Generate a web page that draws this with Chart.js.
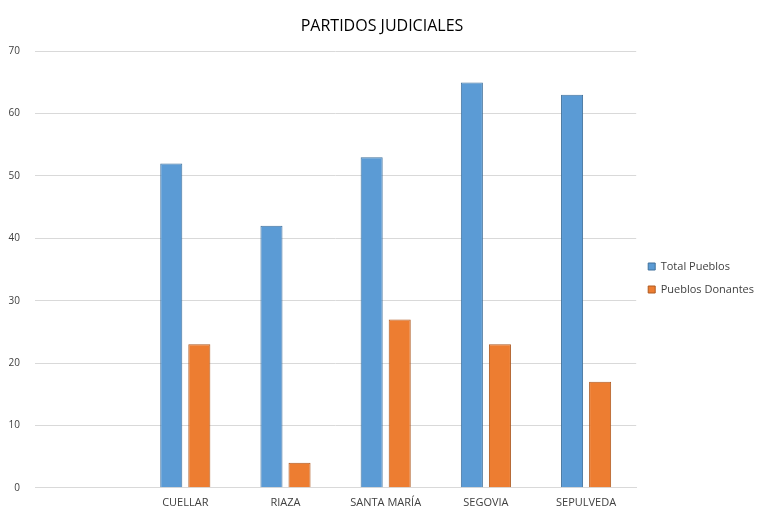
<!DOCTYPE html>
<html>
<head>
<meta charset="utf-8">
<script src="https://cdn.jsdelivr.net/npm/chart.js@4"></script>
<style>
  body { margin: 0; background: #fff; }
  #wrap { width: 772px; height: 521px; }
</style>
</head>
<body>
<div id="wrap"><canvas id="grid"></canvas></div>
<script>
var partidos = ['', 'CUELLAR', 'RIAZA', 'SANTA MARÍA', 'SEGOVIA', 'SEPULVEDA'];
var totalPueblos = [null, 52, 42, 53, 65, 63];
var pueblosDonantes = [null, 23, 4, 27, 23, 17];
var yTicks = [0, 10, 20, 30, 40, 50, 60, 70];

var fontFam = "'Liberation Sans Narrow', 'Open Sans', sans-serif";

var chartdata = {
  labels: partidos,
  datasets: [
    {
      label: 'Total Pueblos',
      backgroundColor: '#5B9BD5',
      borderColor: '#41719C',
      borderWidth: 1,
      data: totalPueblos
    },
    {
      label: 'Pueblos Donantes',
      backgroundColor: '#ED7D31',
      borderColor: '#AE5A21',
      borderWidth: 1,
      data: pueblosDonantes
    }
  ]
};

var ctx = document.getElementById('grid');

var barGraph = new Chart(ctx, {
  type: 'bar',
  data: chartdata,
  options: {
    responsive: true,
    maintainAspectRatio: false,
    animation: false,
    layout: { padding: { left: 0, right: 8, top: 17, bottom: 4 } },
    datasets: { bar: { categoryPercentage: 0.56, barPercentage: 0.786 } },
    plugins: {
      title: {
        display: true,
        text: 'PARTIDOS JUDICIALES',
        color: '#000',
        font: { family: fontFam, size: 16, weight: 'normal' },
        padding: { top: 0, bottom: 15 }
      },
      legend: {
        position: 'right',
        title: { display: true, text: ' ', font: { size: 10 }, padding: { top: 10, bottom: 0 } },
        labels: {
          boxWidth: 7,
          boxHeight: 7,
          padding: 12,
          color: '#404040',
          font: { family: fontFam, size: 11 }
        }
      },
      tooltip: { enabled: false }
    },
    scales: {
      x: {
        grid: { display: false, drawTicks: false },
        border: { display: true, color: '#D9D9D9' },
        ticks: { color: '#404040', padding: 8, font: { family: fontFam, size: 11 } }
      },
      y: {
        min: 0,
        max: 70,
        afterFit: function(axis) { axis.width = 35; },
        afterBuildTicks: function(axis) {
          axis.ticks = yTicks.map(function(v) { return { value: v }; });
        },
        grid: { color: '#D9D9D9', drawTicks: false },
        border: { display: false },
        ticks: { color: '#404040', padding: 15, font: { family: fontFam, size: 10 } }
      }
    }
  }
});
</script>
</body>
</html>
